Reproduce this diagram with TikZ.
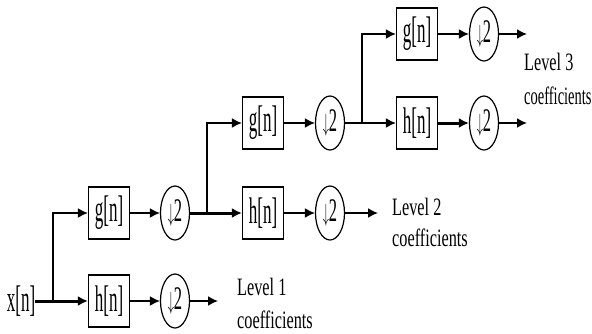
\documentclass[tikz,border=0pt]{standalone}
\usepackage{fontspec}
\setmainfont{Liberation Serif}
\usepackage{graphicx}
\usetikzlibrary{arrows.meta,shapes.geometric}
\newcommand\boxtxt[1]{\scalebox{0.46}[1]{\fontsize{37}{38}\selectfont #1}}
\newcommand\dectxt[1]{\scalebox{0.5}[1]{\fontsize{33}{34}\selectfont #1}}
\newcommand\lbltxt[2][0.65]{\scalebox{#1}[1]{\fontsize{25}{26}\selectfont #2}}
\begin{document}
\begin{tikzpicture}[x=1pt,y=-1pt,
  filt/.style={draw, line width=1.2pt, fill=white, minimum width=41pt, minimum height=52pt, inner sep=0pt},
  dec/.style={draw, ellipse, line width=1.2pt, minimum width=29pt, minimum height=54pt, inner sep=0pt},
  conn/.style={line width=1.7pt},
  thk/.style={line width=3pt},
  arr/.style={-{Latex[length=10pt,width=10pt]}},
  lbl/.style={anchor=west, inner sep=0pt}
]
\fill[white] (0,0) rectangle (592,333);
\useasboundingbox (0,0) rectangle (592,333);

% input
\node[inner sep=0pt] (x) at (21,301) {\boxtxt{x[n]}};
\coordinate (j1) at (53,301);
\coordinate (j2) at (207,213);
\coordinate (j3) at (362,123);

% filters and decimators
\node[filt] (h1) at (109,301) {\boxtxt{h[n]}};
\node[filt] (g1) at (109,213) {\boxtxt{g[n]}};
\node[dec]  (d1) at (175,301) {\dectxt{$\downarrow$2}};
\node[dec]  (d2) at (175,213) {\dectxt{$\downarrow$2}};

\node[filt] (h2) at (263,213) {\boxtxt{h[n]}};
\node[filt] (g2) at (263,123) {\boxtxt{g[n]}};
\node[dec]  (d3) at (330,213) {\dectxt{$\downarrow$2}};
\node[dec]  (d4) at (330,123) {\dectxt{$\downarrow$2}};

\node[filt] (h3) at (417,123) {\boxtxt{h[n]}};
\node[filt] (g3) at (417,34) {\boxtxt{g[n]}};
\node[dec]  (d5) at (484,123) {\dectxt{$\downarrow$2}};
\node[dec]  (d6) at (484,34) {\dectxt{$\downarrow$2}};

\coordinate (o1) at (218,301);
\coordinate (o2) at (378,213);
\coordinate (o3) at (527,123);
\coordinate (o4) at (527,34);

% connectors
\draw[thk] (x) -- (j1);
\draw[thk,arr] (j1) -- (h1);
\draw[conn,arr] (j1) |- (g1);
\draw[conn,arr] (h1) -- (d1);
\draw[conn,arr] (d1) -- (o1);
\draw[conn,arr] (g1) -- (d2);
\draw[thk] (d2) -- (j2);
\draw[thk,arr] (j2) -- (h2);
\draw[conn,arr] (j2) |- (g2);
\draw[conn,arr] (h2) -- (d3);
\draw[conn,arr] (d3) -- (o2);
\draw[conn,arr] (g2) -- (d4);
\draw[conn] (d4) -- (j3);
\draw[conn,arr] (j3) -- (h3);
\draw[conn,arr] (j3) |- (g3);
\draw[thk,arr] (h3) -- (d5);
\draw[conn,arr] (d5) -- (o3);
\draw[conn,arr] (g3) -- (d6);
\draw[conn,arr] (d6) -- (o4);

% labels
\node[lbl] (l1a) at (237,287) {\lbltxt{Level 1}};
\node[lbl] (l1b) at (237,320) {\lbltxt{coefficients}};
\node[lbl] (l2a) at (392,207) {\lbltxt{Level 2}};
\node[lbl] (l2b) at (392,238) {\lbltxt{coefficients}};
\node[lbl] (l3a) at (524,62) {\lbltxt{Level 3}};
\node[lbl] (l3b) at (524,96) {\lbltxt[0.58]{coefficients}};
\end{tikzpicture}
\end{document}
